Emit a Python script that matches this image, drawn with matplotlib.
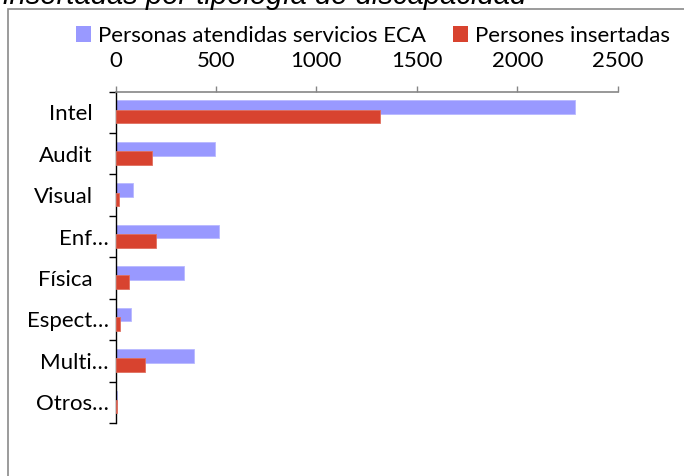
import matplotlib
matplotlib.use("Agg")
import matplotlib.pyplot as plt
import matplotlib.transforms as mtransforms
from matplotlib.patches import Patch, Rectangle
import numpy as np

plt.rcParams['font.family'] = ['Lato', 'DejaVu Sans']

categories = ["Intel", "Audit", "Visual", "Enf…", "Física", "Espect…", "Multi…", "Otros…"]
atendidas = [2285, 496, 87, 513, 342, 76, 392, 5]
insertadas = [1317, 180, 15, 204, 66, 20, 148, 5]
series_names = ["Personas atendidas servicios ECA", "Persones insertadas"]
xticks = [0, 500, 1000, 1500, 2000, 2500]
title_text = "insertadas por tipología de discapacidad"

blue = "#9999FF"
red = "#D8432F"
FS = 16

W, H = 684, 476
fig = plt.figure(figsize=(W / 100, H / 100), dpi=100)

# outer frame
fig.patches.append(Rectangle((8 / W, -0.1), 1.2, (H - 9) / H + 0.1, transform=fig.transFigure,
                             fill=False, edgecolor="#8a8a8a", linewidth=1.2, zorder=0))

# title (mostly cut off at the top, as in the reference)
fig.text(3 / W, 1 - 4.5 / H, title_text, fontsize=21, style="italic",
         family=["Liberation Sans", "DejaVu Sans"], ha="left", va="baseline")

ax = fig.add_axes([115.5 / W, 1 - 423 / H, (617.7 - 115.5) / W, (423 - 91.5) / H])

y = np.arange(len(categories))
h = 0.33
ax.barh(y - 0.118, atendidas, height=h, color=blue, edgecolor="#b9b9ff", linewidth=0.6, zorder=2)
ax.barh(y + 0.105, insertadas, height=h, color=red, edgecolor="#e07060", linewidth=0.6, zorder=3)

ax.set_xlim(0, 2500)
ax.set_ylim(len(categories) - 0.5, -0.5)

ax.xaxis.tick_top()
ax.set_xticks(xticks)
ax.set_xticklabels([str(v) for v in xticks], fontsize=FS)
ax.tick_params(axis="x", direction="out", length=4.5, width=1, color="#868686", pad=10)

ax.set_yticks(y)
ax.set_yticklabels(categories, fontsize=FS)
ax.set_yticks(np.arange(len(categories) + 1) - 0.5, minor=True)
ax.tick_params(axis="y", which="major", length=0, pad=4.7)
ax.tick_params(axis="y", which="minor", direction="out", length=5, width=1, color="black")

for lab in ax.get_yticklabels():
    if not lab.get_text().endswith("…"):
        lab.set_transform(lab.get_transform() + mtransforms.ScaledTranslation(-16 / 100, 0, fig.dpi_scale_trans))

for s in ["right", "bottom"]:
    ax.spines[s].set_visible(False)
ax.spines["top"].set_color("#868686")
ax.spines["top"].set_linewidth(1.2)
ax.spines["left"].set_color("black")
ax.spines["left"].set_linewidth(1)

handles = [Patch(facecolor=blue), Patch(facecolor=red)]
fig.legend(handles, series_names, loc="center", bbox_to_anchor=(373 / W, 1 - 36 / H), ncol=2,
           frameon=False, fontsize=FS, handlelength=0.7, handleheight=0.7,
           handletextpad=0.3, columnspacing=1.2, borderaxespad=0, borderpad=0)

fig.savefig("out.png", dpi=100)
